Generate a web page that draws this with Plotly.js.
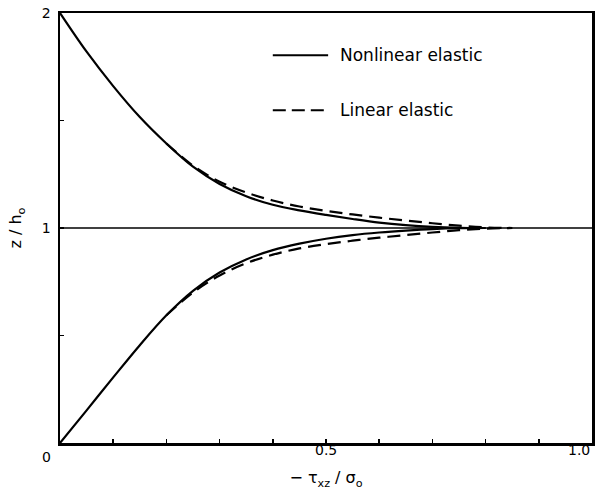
<!DOCTYPE html>
<html>
<head>
<meta charset="utf-8">
<script src="https://cdn.plot.ly/plotly-3.0.1.min.js"></script>
<style>html,body{margin:0;padding:0;background:#fff;}#chart{width:602px;height:504px;}</style>
</head>
<body>
<div id="chart"></div>
<script>
// Nonlinear elastic (solid)
var nlUpperX = [0, 0.05, 0.1, 0.15, 0.2, 0.25, 0.3, 0.35, 0.4, 0.45, 0.5, 0.55, 0.6, 0.65, 0.7, 0.75, 0.8];
var nlUpperZ = [2.0, 1.82, 1.66, 1.516, 1.393, 1.285, 1.205, 1.148, 1.108, 1.082, 1.061, 1.042, 1.025, 1.013, 1.005, 1.001, 1.0];
var nlLowerX = [0, 0.05, 0.1, 0.15, 0.2, 0.25, 0.3, 0.35, 0.4, 0.45, 0.5, 0.55, 0.6, 0.65, 0.7, 0.75, 0.8];
var nlLowerZ = [0.0, 0.152, 0.305, 0.455, 0.594, 0.708, 0.793, 0.854, 0.897, 0.927, 0.95, 0.967, 0.979, 0.988, 0.995, 0.999, 1.0];
// Linear elastic (dashed)
var leUpperX = [0.2, 0.25, 0.3, 0.35, 0.4, 0.45, 0.5, 0.55, 0.6, 0.65, 0.7, 0.75, 0.8, 0.85];
var leUpperZ = [1.393, 1.29, 1.215, 1.165, 1.128, 1.1, 1.08, 1.063, 1.048, 1.035, 1.022, 1.011, 1.003, 1.0];
var leLowerX = [0.2, 0.25, 0.3, 0.35, 0.4, 0.45, 0.5, 0.55, 0.6, 0.65, 0.7, 0.75, 0.8, 0.85];
var leLowerZ = [0.594, 0.7, 0.779, 0.836, 0.876, 0.905, 0.925, 0.941, 0.955, 0.967, 0.979, 0.99, 0.997, 1.0];
// Reference line z/h0 = 1
var refX = [0, 1];
var refZ = [1, 1];

var xTickVals = [0, 0.1, 0.2, 0.3, 0.4, 0.5, 0.6, 0.7, 0.8, 0.9, 1.0];
var xLabelVals = [0.5, 1.0];
var xLabelText = ["0.5", "1.0"];
var cornerLabel = "0";
var yTickVals = [0, 0.5, 1, 1.5, 2];
var yTickText = ["", "", "1", "", "2"];
var legendNames = ["Nonlinear elastic", "Linear elastic"];

var fontFam = "DejaVu Sans, Arial, sans-serif";
var solid = {color: "#000", width: 2.2, shape: "spline", smoothing: 1};
var dashed = {color: "#000", width: 2.2, dash: "13px,7px", shape: "spline", smoothing: 1};

var traces = [
  {x: refX, y: refZ, mode: "lines", line: {color: "#000", width: 1.6}},
  {x: leUpperX, y: leUpperZ, mode: "lines", line: dashed},
  {x: leLowerX, y: leLowerZ, mode: "lines", line: dashed},
  {x: nlUpperX, y: nlUpperZ, mode: "lines", line: solid},
  {x: nlLowerX, y: nlLowerZ, mode: "lines", line: solid}
];

var annotations = [
  {xref: "paper", yref: "paper", x: 0.523, y: 0.902, xanchor: "left", yanchor: "middle", text: legendNames[0], showarrow: false, font: {family: fontFam, size: 17, color: "#000"}},
  {xref: "paper", yref: "paper", x: 0.523, y: 0.774, xanchor: "left", yanchor: "middle", text: legendNames[1], showarrow: false, font: {family: fontFam, size: 17, color: "#000"}},
  {xref: "paper", yref: "paper", x: -0.0245, y: -0.032, xanchor: "center", yanchor: "middle", text: cornerLabel, showarrow: false, font: {family: fontFam, size: 14, color: "#000"}}
];
xLabelVals.forEach(function(v, i) {
  annotations.push({xref: "x", yref: "paper", x: v, y: -0.016, xanchor: (v >= 1 ? "right" : "center"), yanchor: "middle",
    text: xLabelText[i], showarrow: false, font: {family: fontFam, size: 14, color: "#000"}});
});

var layout = {
  width: 602, height: 504,
  margin: {l: 60, r: 10, t: 13, b: 61},
  paper_bgcolor: "#fff", plot_bgcolor: "#fff",
  showlegend: false,
  font: {family: fontFam, color: "#000", size: 13},
  xaxis: {
    range: [0, 1], tickvals: xTickVals, showticklabels: false,
    ticks: "inside", ticklen: 4, tickwidth: 1.5, tickcolor: "#000",
    showline: true, linewidth: 2.5, linecolor: "#000", mirror: true,
    showgrid: false, zeroline: false,
    title: {text: "− τ<sub>xz</sub> / σ<sub>o</sub>", font: {family: fontFam, size: 16, color: "#000"}, standoff: 28}
  },
  yaxis: {
    range: [0, 2], tickvals: yTickVals, ticktext: yTickText,
    ticks: "inside", ticklen: 4, tickwidth: 1.5, tickcolor: "#000",
    showline: true, linewidth: 2.5, linecolor: "#000", mirror: true,
    showgrid: false, zeroline: false, ticklabelstandoff: 4,
    tickfont: {family: fontFam, size: 14, color: "#000"},
    title: {text: "z / h<sub>o</sub>", font: {family: fontFam, size: 16, color: "#000"}, standoff: 16}
  },
  shapes: [
    {type: "line", xref: "paper", yref: "paper", x0: 0.40, x1: 0.504, y0: 0.902, y1: 0.902, line: {color: "#000", width: 2}},
    {type: "line", xref: "paper", yref: "paper", x0: 0.40, x1: 0.504, y0: 0.774, y1: 0.774, line: {color: "#000", width: 2, dash: "13px,6px"}}
  ],
  annotations: annotations
};

Plotly.newPlot("chart", traces, layout, {displayModeBar: false, staticPlot: true});
</script>
</body>
</html>
